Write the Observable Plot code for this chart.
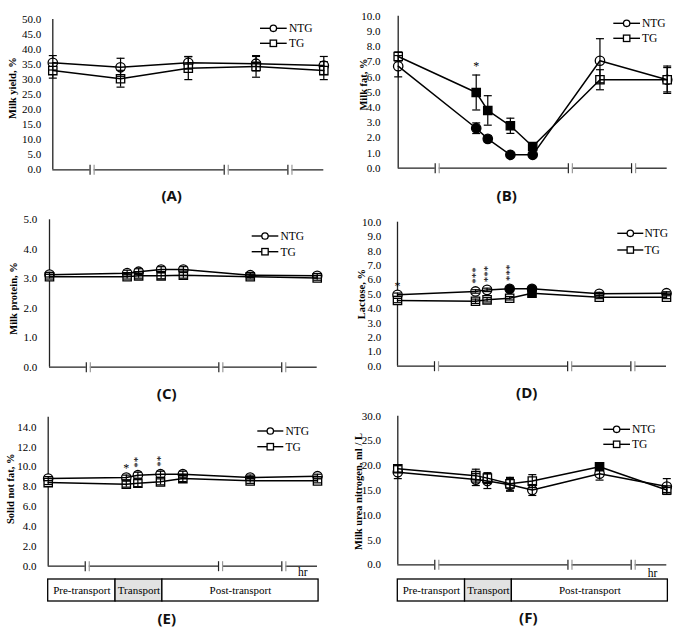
<!DOCTYPE html>
<html><head><meta charset="utf-8">
<script src="https://cdn.jsdelivr.net/npm/d3@7"></script>
<script src="https://cdn.jsdelivr.net/npm/@observablehq/plot@0.6"></script>
<style>
body{margin:0;background:#fff;}
#root{position:relative;width:680px;height:629px;background:#fff;overflow:hidden;}
.panel{position:absolute;}
.panel svg text{font-family:"Liberation Serif","Times New Roman",serif;}
.plabel{position:absolute;font-family:"Open Sans";font-weight:700;font-size:15px;transform:translate(-50%,-50%);white-space:nowrap;color:#111;}
</style></head><body><div id="root"></div><script>
// ---- data ----
const timeA = [0, 2.5, 5, 7.5, 10];
const timeB = [0, 2.9, 3.33, 4.17, 5.0, 7.5, 10];
const breaks = [1.45, 6.4, 8.75];

const yieldNTG = [35.6, 34.1, 35.6, 35.3, 34.7];
const yieldNTGse = [2.4, 3.0, 2.1, 2.4, 3.0];
const yieldTG = [33.0, 30.3, 33.8, 34.4, 33.0];
const yieldTGse = [2.5, 2.8, 3.8, 3.6, 3.0];

const fatNTG = [6.71, 2.63, 1.93, 0.88, 0.88, 7.07, 5.82];
const fatNTGse = [0.7, 0.35, 0.2, 0.1, 0.1, 1.45, 0.8];
const fatTG = [7.35, 4.98, 3.8, 2.79, 1.43, 5.82, 5.82];
const fatTGse = [0.3, 1.15, 0.97, 0.5, 0.15, 0.66, 0.9];
const fatNTGfill = [0, 1, 1, 1, 1, 0, 0];
const fatTGfill = [0, 1, 1, 1, 1, 0, 0];
const fatStars = ["", "*", "", "", "", "", ""];

const proteinNTG = [3.14, 3.19, 3.24, 3.31, 3.31, 3.12, 3.1];
const proteinNTGse = [0.08, 0.1, 0.1, 0.1, 0.1, 0.08, 0.08];
const proteinTG = [3.07, 3.07, 3.1, 3.1, 3.12, 3.07, 3.03];
const proteinTGse = [0.08, 0.08, 0.08, 0.1, 0.1, 0.08, 0.08];

const lactoseNTG = [4.96, 5.19, 5.3, 5.37, 5.37, 5.03, 5.07];
const lactoseNTGse = [0.12, 0.12, 0.12, 0.12, 0.12, 0.1, 0.1];
const lactoseTG = [4.56, 4.51, 4.61, 4.72, 5.07, 4.79, 4.79];
const lactoseTGse = [0.15, 0.15, 0.15, 0.12, 0.12, 0.1, 0.1];
const lactoseNTGfill = [0, 0, 0, 1, 1, 0, 0];
const lactoseTGfill = [0, 0, 0, 0, 1, 0, 0];
const lactoseStars = ["*", "***", "***", "***", "", "", ""];

const snfNTG = [8.82, 8.92, 9.16, 9.26, 9.26, 8.92, 9.06];
const snfNTGse = [0.2, 0.25, 0.3, 0.3, 0.3, 0.25, 0.2];
const snfTG = [8.42, 8.26, 8.36, 8.49, 8.82, 8.59, 8.59];
const snfTGse = [0.2, 0.3, 0.35, 0.3, 0.3, 0.25, 0.2];
const snfStars = ["", "*", "**", "**", "", "", ""];

const munNTG = [18.7, 17.2, 16.9, 16.15, 15.1, 18.4, 15.8];
const munNTGse = [1.3, 1.2, 1.5, 1.3, 1.1, 1.3, 1.6];
const munTG = [19.4, 18.0, 17.5, 16.35, 16.9, 19.8, 15.1];
const munTGse = [0.7, 1.3, 1.1, 1.3, 1.3, 0.5, 0.5];
const munTGfill = [0, 0, 0, 0, 0, 1, 0];

const periods = ["Pre-transport", "Transport", "Post-transport"];
const periodStart = [0, 2.5, 4.24];
const periodEnd = [2.5, 4.24, 10.04];

// ---- helpers ----
const SERIF = '"Liberation Serif", "Times New Roman", serif';
const vbar = {draw(ctx, size) { const r = Math.sqrt(size / Math.PI); ctx.moveTo(0, -r); ctx.lineTo(0, r); }};
const hbar = {draw(ctx, size) { const r = Math.sqrt(size / Math.PI); ctx.moveTo(-r, 0); ctx.lineTo(r, 0); }};
const root = document.getElementById("root");

function range(a, b, s) { const o = []; for (let v = a; v <= b + 1e-9; v += s) o.push(+v.toFixed(4)); return o; }

function panel(c) {
  const rows = [];
  c.time.forEach((t, i) => {
    rows.push({series: "NTG", x: t, y: c.ntg[i], se: c.ntgSe[i], filled: c.ntgFill ? c.ntgFill[i] : 0});
    rows.push({series: "TG", x: t, y: c.tg[i], se: c.tgSe[i], filled: c.tgFill ? c.tgFill[i] : 0});
  });
  const gap = 0.075;
  const cuts = [0, ...breaks.flatMap(b => [b - gap, b + gap]), 10];
  const segs = [];
  for (let i = 0; i < cuts.length; i += 2) segs.push({a: cuts[i], b: cuts[i + 1]});
  const marks = [
    Plot.ruleX([0], {y1: 0, y2: c.ymax, stroke: "#222", strokeWidth: 1.3}),
    Plot.ruleY(segs, {x1: "a", x2: "b", y: 0, stroke: "#222", strokeWidth: 1.3}),
    Plot.dot(breaks, {x: d => d - gap, y: 0, symbol: vbar, r: 5, fill: "none", stroke: "#222", strokeWidth: 1.2}),
    Plot.dot(breaks, {x: d => d + gap, y: 0, symbol: vbar, r: 5, fill: "none", stroke: "#999", strokeWidth: 1.2}),
    Plot.axisY({ticks: c.ticks, tickFormat: d => d.toFixed(1), tickSize: 0, tickPadding: c.pad, label: null, fontSize: 11}),
    Plot.text([c.ylabel], {frameAnchor: "left", dx: -c.labelDx, dy: c.labelDy, rotate: -90, fontWeight: "bold", fontSize: 10.5, textAnchor: "middle"}),
    Plot.dot(rows, {x: "x", y: "y", symbol: "series", r: 4.7, fill: d => d.filled ? "black" : "white", stroke: "black", strokeWidth: 1.3}),
    Plot.line(rows, {x: "x", y: "y", z: "series", stroke: "black", strokeWidth: 1.5}),
    Plot.ruleX(rows, {x: "x", y1: d => d.y - d.se, y2: d => d.y + d.se, stroke: "black", strokeWidth: 1.2}),
    Plot.dot(rows, {x: "x", y: d => d.y - d.se, symbol: hbar, r: 4, fill: "none", stroke: "black", strokeWidth: 1.2}),
    Plot.dot(rows, {x: "x", y: d => d.y + d.se, symbol: hbar, r: 4, fill: "none", stroke: "black", strokeWidth: 1.2})
  ];
  if (c.stars) {
    const refY = i => c.starRef === "TGtop" ? c.tg[i] + c.tgSe[i] : c.ntg[i];
    const st = c.stars.map((s, i) => ({s, i})).filter(d => d.s);
    marks.push(Plot.text(st.filter(d => d.s.length === 1), {x: d => c.time[d.i], y: d => refY(d.i), text: "s", dy: c.starDy1, fontSize: 12, lineAnchor: "middle"}));
    marks.push(Plot.text(st.filter(d => d.s.length > 1), {x: d => c.time[d.i], y: d => refY(d.i), text: "s", dy: c.starDy2, rotate: -90, fontSize: 11, lineAnchor: "middle"}));
  }
  if (c.hr) marks.push(Plot.text(["hr"], {frameAnchor: "bottom-right", dx: c.hr[0], dy: c.hr[1], fontSize: 11.5, lineAnchor: "middle"}));
  const svg = Plot.plot({
    width: 340, height: 200,
    marginLeft: c.x0, marginRight: 340 - c.x1, marginTop: c.yTop, marginBottom: 200 - c.yBottom,
    x: {domain: [0, 10], axis: null},
    y: {domain: [0, c.ymax], axis: null},
    symbol: {domain: ["NTG", "TG"], range: ["circle", "square"]},
    style: {fontFamily: SERIF, fontSize: "11px", color: "black", background: "transparent", overflow: "visible"},
    marks
  });
  // legend
  const L = c.leg;
  const g = d3.select(svg).append("g").attr("font-family", SERIF).attr("font-size", 11.5).attr("fill", "black").attr("text-anchor", "start");
  [["NTG", L[3]], ["TG", L[4]]].forEach(([name, y]) => {
    g.append("line").attr("x1", L[0]).attr("x2", L[1]).attr("y1", y).attr("y2", y).attr("stroke", "black").attr("stroke-width", 1.4);
    const cx = (L[0] + L[1]) / 2;
    if (name === "NTG") g.append("circle").attr("cx", cx).attr("cy", y).attr("r", 3.2).attr("fill", "white").attr("stroke", "black").attr("stroke-width", 1.3);
    else g.append("rect").attr("x", cx - 3.2).attr("y", y - 3.2).attr("width", 6.4).attr("height", 6.4).attr("fill", "white").attr("stroke", "black").attr("stroke-width", 1.3);
    g.append("text").attr("x", L[2]).attr("y", y).attr("dy", "0.35em").attr("text-anchor", "start").text(name);
  });
  const wrap = document.createElement("div");
  wrap.className = "panel";
  wrap.style.left = c.left + "px"; wrap.style.top = c.top + "px";
  wrap.appendChild(svg);
  root.appendChild(wrap);
  const lab = document.createElement("div");
  lab.className = "plabel";
  lab.textContent = c.name;
  lab.style.left = c.lab[0] + "px"; lab.style.top = c.lab[1] + "px";
  root.appendChild(lab);
}

function periodBox(c) {
  const rows = periods.map((name, i) => ({name, start: periodStart[i], end: periodEnd[i]}));
  const svg = Plot.plot({
    width: 340, height: 24, marginLeft: c.x0, marginRight: 340 - c.x1, marginTop: 1, marginBottom: 1,
    x: {domain: [0, 10], axis: null},
    style: {fontFamily: SERIF, fontSize: "11px", color: "black", background: "transparent", overflow: "visible"},
    marks: [
      Plot.rect(rows, {x1: "start", x2: "end", fill: d => d.name === "Transport" ? "#e2e2e2" : "white", stroke: "black", strokeWidth: 1.3}),
      Plot.text(rows, {x: d => (d.start + d.end) / 2, text: "name", fontSize: 11})
    ]
  });
  const wrap = document.createElement("div");
  wrap.className = "panel";
  wrap.style.left = c.left + "px"; wrap.style.top = c.top + "px";
  wrap.appendChild(svg);
  root.appendChild(wrap);
}

panel({name: "(A)", left: 0, top: 0, x0: 52.3, x1: 323.3, yTop: 19, yBottom: 169.3, ymax: 50, ticks: range(0, 50, 5), pad: 11.6,
  ylabel: "Milk yield, %", labelDx: 40.6, labelDy: -6.5, time: timeA,
  ntg: yieldNTG, ntgSe: yieldNTGse, tg: yieldTG, tgSe: yieldTGse,
  leg: [260, 286.7, 289, 28.3, 43.3], lab: [171.7, 195]});

panel({name: "(B)", left: 340, top: 0, x0: 57.7, x1: 326.7, yTop: 15.7, yBottom: 167.7, ymax: 10, ticks: range(0, 10, 1), pad: 17.7,
  ylabel: "Milk fat, %", labelDx: 34.4, labelDy: -7.7, time: timeB,
  ntg: fatNTG, ntgSe: fatNTGse, tg: fatTG, tgSe: fatTGse, ntgFill: fatNTGfill, tgFill: fatTGfill,
  stars: fatStars, starRef: "TGtop", starDy1: -9, starDy2: -14,
  leg: [273.3, 300, 302, 23.3, 38.3], lab: [506.7, 195]});

panel({name: "(C)", left: 0, top: 200, x0: 49, x1: 316.7, yTop: 19.3, yBottom: 166.7, ymax: 5, ticks: range(0, 5, 1), pad: 12.3,
  ylabel: "Milk protein, %", labelDx: 35.7, labelDy: 5, time: timeB,
  ntg: proteinNTG, ntgSe: proteinNTGse, tg: proteinTG, tgSe: proteinTGse,
  leg: [251.7, 278.3, 280.5, 36, 51.7], lab: [166.7, 393.3]});

panel({name: "(D)", left: 340, top: 200, x0: 57, x1: 326, yTop: 21.7, yBottom: 165.7, ymax: 10, ticks: range(0, 10, 1), pad: 16.3,
  ylabel: "Lactose, %", labelDx: 36, labelDy: 0, time: timeB,
  ntg: lactoseNTG, ntgSe: lactoseNTGse, tg: lactoseTG, tgSe: lactoseTGse, ntgFill: lactoseNTGfill, tgFill: lactoseTGfill,
  stars: lactoseStars, starRef: "NTG", starDy1: -9, starDy2: -16,
  leg: [277.3, 303.3, 304.5, 33.3, 50], lab: [526.7, 391.7]});

panel({name: "(E)", left: 0, top: 400, x0: 47.7, x1: 317, yTop: 16.7, yBottom: 165.7, ymax: 15, ticks: range(0, 14, 2), pad: 11.7,
  ylabel: "Solid not fat, %", labelDx: 37.7, labelDy: -3, time: timeB,
  ntg: snfNTG, ntgSe: snfNTGse, tg: snfTG, tgSe: snfTGse,
  stars: snfStars, starRef: "NTG", starDy1: -9, starDy2: -13, hr: [-10, 6],
  leg: [257.3, 283.3, 285.5, 31, 46.7], lab: [166.7, 618.3]});

panel({name: "(F)", left: 340, top: 400, x0: 57.3, x1: 326.3, yTop: 15.7, yBottom: 164.3, ymax: 30, ticks: range(0, 30, 5), pad: 16.7,
  ylabel: "Milk urea nitrogen, ml / L", labelDx: 39, labelDy: 1, time: timeB,
  ntg: munNTG, ntgSe: munNTGse, tg: munTG, tgSe: munTGse, tgFill: munTGfill, hr: [-9.5, 9],
  leg: [263.3, 290, 292, 29.3, 44.3], lab: [528.3, 616.7]});

periodBox({left: 0, top: 578.3, x0: 47.7, x1: 317});
periodBox({left: 340, top: 578.3, x0: 57.3, x1: 326.3});
</script></body></html>
